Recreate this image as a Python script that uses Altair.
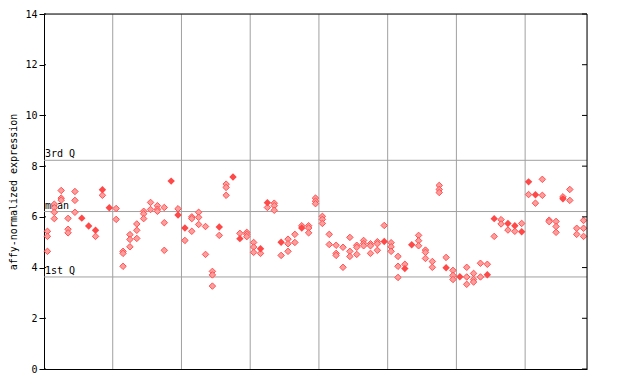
import altair as alt
import pandas as pd

# replicate values per sample column (checkered diamonds)
hollow = [
    [5.43, 5.23, 4.64], [6.50, 6.36, 6.18, 5.93], [7.04, 6.74, 6.66], [5.94, 5.51, 5.37],
    [7.00, 6.65, 6.18], [], [], [5.23], [6.85], [],
    [6.33, 5.90], [4.64, 4.56, 4.05], [5.30, 5.11, 4.82], [5.72, 5.47, 5.15], [6.22, 6.12, 5.93],
    [6.57, 6.29], [6.44, 6.30, 6.22], [6.37, 5.77, 4.68], [], [6.32],
    [5.07], [6.00, 5.93, 5.43], [6.18, 5.98, 5.70], [5.62, 4.52], [3.85, 3.71, 3.27],
    [5.27], [7.29, 7.16, 6.85], [], [5.35], [5.39, 5.31, 5.22],
    [4.99, 4.81, 4.60], [4.56], [6.37], [6.54, 6.44, 6.26], [4.48],
    [5.12, 4.94, 4.64], [5.31, 4.99], [5.65], [5.65, 5.56, 5.37], [6.74, 6.62, 6.52],
    [6.02, 5.90, 5.74], [5.31, 4.91], [4.88, 4.56, 4.48], [4.80, 4.01], [5.19, 4.64, 4.44],
    [4.88, 4.80, 4.52], [5.07, 4.95, 4.86], [4.94, 4.86, 4.56], [5.02, 4.94, 4.68], [5.66],
    [4.98, 4.82, 4.64], [4.44, 4.05, 3.61], [4.13], [], [5.27, 5.06, 4.86],
    [4.69, 4.60, 4.36], [4.24, 4.01], [7.24, 7.08, 6.96], [4.40], [3.89, 3.69, 3.53],
    [], [4.01, 3.63, 3.34], [3.77, 3.53, 3.43], [4.17, 3.63], [4.13],
    [5.23], [5.89, 5.72], [5.48], [5.43], [5.74],
    [6.88], [6.54], [7.48, 6.85], [5.87, 5.81], [5.82, 5.62, 5.39],
    [6.79], [7.08, 6.65], [5.55, 5.31], [5.86, 5.55, 5.23],
]
# solid diamonds per sample column
solid = [
    [], [], [], [], [], [5.95], [5.64], [5.47], [7.07], [6.36],
    [], [], [], [], [], [], [], [], [7.41], [6.07],
    [5.56], [], [], [], [], [5.60], [], [7.57], [5.14], [],
    [], [4.74], [6.56], [], [5.00], [], [], [5.56], [], [],
    [], [], [], [], [], [], [], [], [], [5.03],
    [], [], [3.96], [4.90], [], [], [], [], [3.99], [],
    [3.64], [], [], [], [3.72], [5.93], [], [5.74], [5.65], [5.41],
    [7.38], [6.87], [], [], [], [6.71], [], [], [],
]
ref_names = ["3rd Q", "mean", "1st Q"]
ref_values = [8.23, 6.21, 3.63]
y_ticks = [0, 2, 4, 6, 8, 10, 12, 14]
group_bounds = [10, 20, 30, 40, 50, 60, 70]
n_cols = len(hollow)

rows = []
for i, vs in enumerate(hollow):
    for v in vs:
        rows.append({"x": i + 0.5, "y": v, "kind": "hollow"})
for i, vs in enumerate(solid):
    for v in vs:
        rows.append({"x": i + 0.5, "y": v, "kind": "solid"})
df = pd.DataFrame(rows)
ref_df = pd.DataFrame({"name": ref_names, "y": ref_values, "x": [0.0] * 3})
grid_df = pd.DataFrame({"x": group_bounds, "y": [0.0] * len(group_bounds)})
tick_df = pd.DataFrame({"y": y_ticks, "x": [0.0] * len(y_ticks)})
frame_df = pd.DataFrame({"x": [0.0], "y": [0.0]})

W, H = 543, 355
FONT = "DejaVu Sans Mono"
xs = alt.Scale(domain=[0, n_cols], nice=False, zero=False)
ys = alt.Scale(domain=[0, 14], nice=False, zero=True)

X_AX = alt.Axis(labels=False, ticks=False, grid=False, domainColor="black", title=None)
Y_AX = alt.Axis(
    values=y_ticks, grid=False, tickColor="black", tickSize=5, domainColor="black",
    labelFont=FONT, labelFontSize=10, labelColor="black", labelPadding=2,
    title="affy-normalized expression", titleFont=FONT, titleFontSize=10,
    titleFontWeight="normal", titleColor="black", titleX=-31, titleY=H / 2,
    titleAngle=270, titleAlign="center", titleBaseline="middle")

X = lambda: alt.X("x:Q", scale=xs, axis=X_AX)
Y = lambda: alt.Y("y:Q", scale=ys, axis=Y_AX)

vgrid = alt.Chart(grid_df).mark_rule(color="#a0a0a0", strokeWidth=1).encode(
    x=X(), y=alt.value(0), y2=alt.value(H)
)
hgrid = alt.Chart(ref_df).mark_rule(color="#a0a0a0", strokeWidth=1).encode(
    y=Y(), x=alt.value(0), x2=alt.value(W)
)
reftext = alt.Chart(ref_df).mark_text(
    align="left", baseline="bottom", dx=1, dy=-1, font=FONT, fontSize=10, color="black"
).encode(x=X(), y=Y(), text="name:N")

right_ticks = alt.Chart(tick_df).mark_rule(color="black").encode(
    x=alt.value(W - 5), x2=alt.value(W), y=Y()
)
left_ticks = alt.Chart(tick_df).mark_rule(color="black").encode(
    x=alt.value(0), x2=alt.value(2), y=Y()
)
top_line = alt.Chart(frame_df).mark_rule(color="black").encode(
    x=alt.value(0), x2=alt.value(W), y=alt.value(0)
)
right_line = alt.Chart(frame_df).mark_rule(color="black").encode(
    x=alt.value(W), y=alt.value(0), y2=alt.value(H)
)

pts_h = alt.Chart(df[df.kind == "hollow"]).mark_point(
    shape="diamond", filled=True, size=42, color="#ff9c9c", stroke="#ff5050", strokeWidth=1, opacity=1
).encode(x=X(), y=Y())
pts_s = alt.Chart(df[df.kind == "solid"]).mark_point(
    shape="diamond", filled=True, size=55, color="#ff4848", opacity=1
).encode(x=X(), y=Y())

chart = alt.layer(
    vgrid, hgrid, reftext, pts_h, pts_s, right_ticks, left_ticks, top_line, right_line
).properties(
    width=W, height=H,
    autosize=alt.AutoSizeParams(type="none"),
    padding={"left": 36, "top": 6, "right": 10, "bottom": 10},
).configure_view(stroke="black", strokeWidth=1).configure(background="white")

chart.save("out.html", embed_options={"renderer": "svg", "actions": False})
